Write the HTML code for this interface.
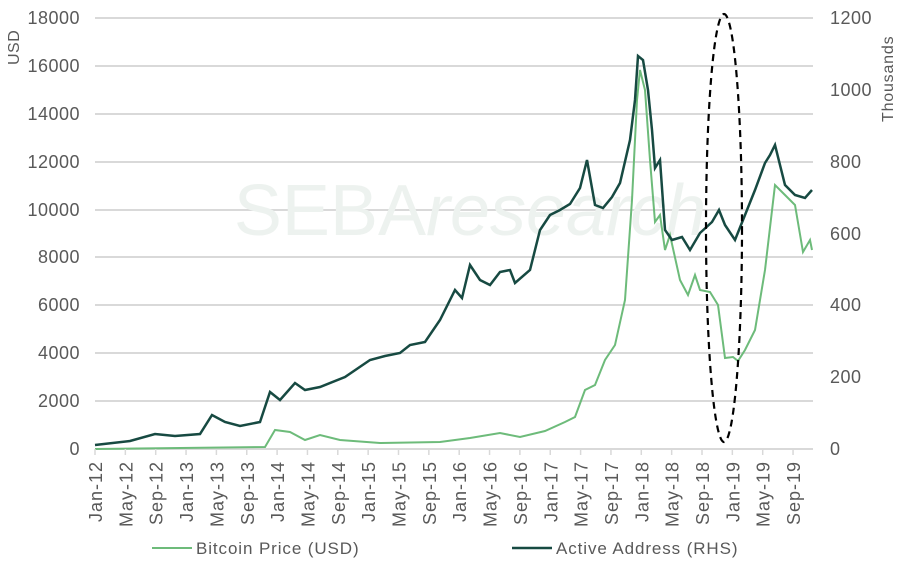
<!DOCTYPE html>
<html><head><meta charset="utf-8"><style>
body{margin:0;background:#fff;}
svg text{font-family:"Liberation Sans",sans-serif;fill:#595959;}
</style></head><body>
<svg width="901" height="561" viewBox="0 0 901 561">
<g stroke="#d9d9d9" stroke-width="2">
<line x1="95" x2="813" y1="18" y2="18"/><line x1="95" x2="813" y1="66" y2="66"/>
<line x1="95" x2="813" y1="114" y2="114"/><line x1="95" x2="813" y1="162" y2="162"/>
<line x1="95" x2="813" y1="210" y2="210"/><line x1="95" x2="813" y1="257" y2="257"/>
<line x1="95" x2="813" y1="305" y2="305"/><line x1="95" x2="813" y1="353" y2="353"/>
<line x1="95" x2="813" y1="401" y2="401"/><line x1="95" x2="813" y1="449" y2="449"/>
</g>
<text x="470" y="235" font-size="72" style="fill:#edf2ef" text-anchor="middle">SEBA<tspan font-style="italic">research</tspan></text>
<g font-size="18" text-anchor="end" letter-spacing="0.5">
<text x="80" y="24">18000</text><text x="80" y="72">16000</text><text x="80" y="120">14000</text>
<text x="80" y="168">12000</text><text x="80" y="216">10000</text><text x="80" y="263">8000</text>
<text x="80" y="311">6000</text><text x="80" y="359">4000</text><text x="80" y="407">2000</text>
<text x="80" y="455">0</text></g>
<g font-size="18" text-anchor="start" letter-spacing="0.5">
<text x="830" y="24">1200</text><text x="830" y="96">1000</text><text x="830" y="168">800</text>
<text x="830" y="240">600</text><text x="830" y="311">400</text><text x="830" y="383">200</text>
<text x="830" y="455">0</text></g>
<text transform="translate(19,65) rotate(-90)" font-size="16" letter-spacing="0.5">USD</text>
<text transform="translate(893,122) rotate(-90)" font-size="16" letter-spacing="0.8">Thousands</text>
<g id="xl" font-size="18" text-anchor="end" letter-spacing="1"></g>
<polyline fill="none" stroke="#6dbb7a" stroke-width="2" points="95,449 265,447 275,430 290,432 305,440 320,435 340,440 380,443 440,442 470,438 500,433 520,437 545,431 565,422 575,417 585,390 595,385 605,360 615,345 625,300 632,200 637,100 640,70 645,90 650,160 655,222 660,215 665,250 670,235 680,280 688,295 695,275 700,290 710,292 718,305 725,358 733,357 738,361 745,350 755,330 765,270 775,185 785,195 795,205 803,252 810,240 812,250"/>
<polyline fill="none" stroke="#174a42" stroke-width="2.5" points="95,445 130,441 155,434 175,436 200,434 212,415 225,422 240,426 260,422 270,392 280,400 295,383 305,390 320,387 345,377 370,360 385,356 400,353 410,345 425,342 440,320 455,290 462,298 470,265 480,280 490,285 500,272 510,270 515,283 530,270 540,230 550,215 560,210 570,204 580,188 587,160 595,205 603,208 612,197 620,183 630,140 635,100 638,56 643,60 648,90 652,130 655,168 660,160 665,230 672,240 682,237 690,250 700,233 712,222 719,210 725,225 735,240 745,215 755,190 765,163 770,155 775,145 785,185 795,195 805,198 812,190"/>
<ellipse cx="724" cy="228" rx="18" ry="214" fill="none" stroke="#000" stroke-width="2.2" stroke-dasharray="7,5"/>
<g stroke="#d9d9d9" stroke-width="1.5" id="tk"></g>
<line x1="152" x2="192" y1="548" y2="548" stroke="#6dbb7a" stroke-width="2"/>
<text x="196" y="554" font-size="17" letter-spacing="0.9">Bitcoin Price (USD)</text>
<line x1="512" x2="552" y1="548" y2="548" stroke="#174a42" stroke-width="2.5"/>
<text x="556" y="554" font-size="17" letter-spacing="0.9">Active Address (RHS)</text>
<script>
var L=["Jan-12","May-12","Sep-12","Jan-13","May-13","Sep-13","Jan-14","May-14","Sep-14","Jan-15","May-15","Sep-15","Jan-16","May-16","Sep-16","Jan-17","May-17","Sep-17","Jan-18","May-18","Sep-18","Jan-19","May-19","Sep-19"];
var g=document.getElementById("xl"),t=document.getElementById("tk"),ns="http://www.w3.org/2000/svg";
L.forEach(function(s,i){var x=95+i*30.35;
var e=document.createElementNS(ns,"text");e.setAttribute("transform","translate("+(x+7)+",461) rotate(-90)");e.textContent=s;g.appendChild(e);
var l=document.createElementNS(ns,"line");l.setAttribute("x1",x);l.setAttribute("x2",x);l.setAttribute("y1",449);l.setAttribute("y2",455);t.appendChild(l);});
</script>
</svg>
</body></html>
